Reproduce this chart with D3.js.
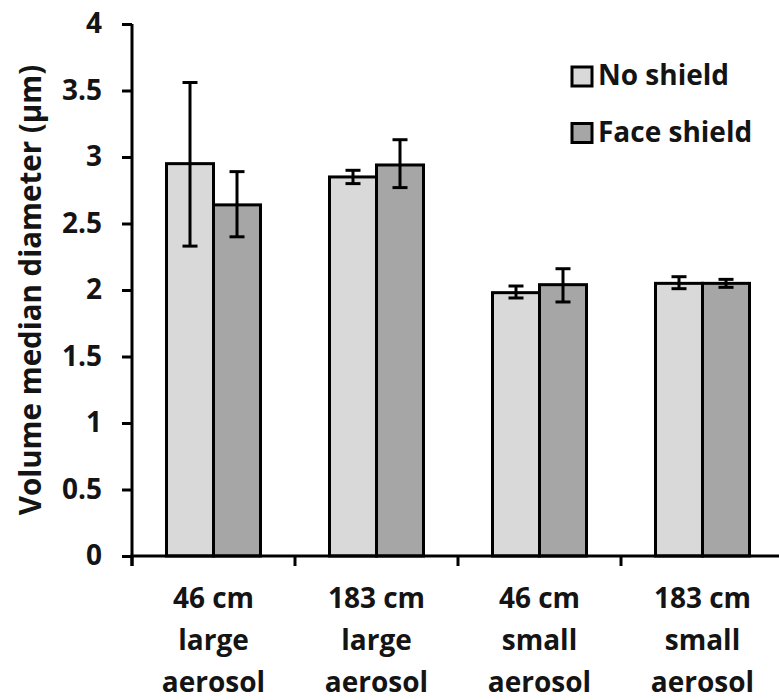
<!DOCTYPE html>
<html><head><meta charset="utf-8">
<script src="https://cdn.jsdelivr.net/npm/d3@7"></script>
<style>body{margin:0;background:#fff}</style>
</head><body>
<svg id="c" width="779" height="700"></svg>
<script>
const categories = [["46 cm","large","aerosol"],["183 cm","large","aerosol"],["46 cm","small","aerosol"],["183 cm","small","aerosol"]];
const series = ["No shield","Face shield"];
const noShield = [2.95, 2.85, 1.98, 2.05];
const noShieldLo = [2.33, 2.80, 1.94, 2.01];
const noShieldHi = [3.56, 2.90, 2.03, 2.10];
const faceShield = [2.64, 2.94, 2.04, 2.05];
const faceShieldLo = [2.40, 2.77, 1.91, 2.02];
const faceShieldHi = [2.89, 3.13, 2.16, 2.08];
const yTicks = [0, 0.5, 1, 1.5, 2, 2.5, 3, 3.5, 4];
const colors = ["#d9d9d9", "#a6a6a6"];

const svg = d3.select("#c");
const font = "'Open Sans', sans-serif";
const txt = "#141414";
const x0 = d3.scaleBand().domain(d3.range(categories.length)).range([132, 784]).paddingInner(0).paddingOuter(0);
const x1 = d3.scaleBand().domain(series).range([34.5, x0.bandwidth()-34.5]);
const y = d3.scaleLinear().domain([0,4]).range([556, 24]);

const data = [noShield, faceShield];
const lo = [noShieldLo, faceShieldLo];
const hi = [noShieldHi, faceShieldHi];

// bars
categories.forEach((c,i)=>{
  series.forEach((s,j)=>{
    svg.append("rect")
      .attr("x", x0(i)+x1(s)).attr("width", x1.bandwidth())
      .attr("y", y(data[j][i])).attr("height", y(0)-y(data[j][i]))
      .attr("fill", colors[j]).attr("stroke","#000").attr("stroke-width",3);
  });
});
// error bars
categories.forEach((c,i)=>{
  series.forEach((s,j)=>{
    const cx = x0(i)+x1(s)+x1.bandwidth()/2;
    const g = svg.append("g").attr("stroke","#000").attr("stroke-width",3);
    g.append("line").attr("x1",cx).attr("x2",cx).attr("y1",y(lo[j][i])).attr("y2",y(hi[j][i]));
    [lo[j][i],hi[j][i]].forEach(v=>g.append("line").attr("x1",cx-7.5).attr("x2",cx+7.5).attr("y1",y(v)).attr("y2",y(v)));
  });
});

// y axis
const yAxis = svg.append("g").attr("transform","translate(132,0)")
  .call(d3.axisLeft(y).tickValues(yTicks).tickSize(10).tickPadding(20).tickFormat(d=>String(d)));
yAxis.select(".domain").attr("stroke-width",3).attr("d", `M0,${y(4)}V${y(0)+10}`);
yAxis.selectAll(".tick line").attr("stroke-width",3);
yAxis.selectAll("text").attr("font-family",font).attr("font-weight","bold").attr("font-size",28).attr("fill",txt);

// x axis
const xAxis = svg.append("g").attr("transform",`translate(0,${y(0)})`);
xAxis.append("line").attr("x1",130.5).attr("x2",784).attr("y1",0).attr("y2",0).attr("stroke","#000").attr("stroke-width",3);
d3.range(categories.length+1).forEach(i=>{
  const xx = i<categories.length ? x0(i) : 784;
  xAxis.append("line").attr("x1",xx).attr("x2",xx).attr("y1",0).attr("y2",10).attr("stroke","#000").attr("stroke-width",3);
});
categories.forEach((c,i)=>{
  const t = svg.append("text").attr("text-anchor","middle").attr("font-family",font).attr("font-weight","bold").attr("font-size",28).attr("fill",txt);
  c.forEach((line,k)=>{
    t.append("tspan").attr("x", x0(i)+x0.bandwidth()/2).attr("y", 608+k*42).text(line);
  });
});

// y title
svg.append("text").attr("transform","translate(41,290) rotate(-90)").attr("text-anchor","middle")
  .attr("font-family",font).attr("font-weight","bold").attr("font-size",29.5).attr("fill",txt)
  .text("Volume median diameter (µm)");

// legend
series.forEach((s,j)=>{
  const ly = 67 + j*56.5;
  svg.append("rect").attr("x",572).attr("y",ly).attr("width",20).attr("height",19)
    .attr("fill",colors[j]).attr("stroke","#000").attr("stroke-width",3);
  svg.append("text").attr("x",598).attr("y",ly+18).attr("font-family",font).attr("font-weight","bold")
    .attr("font-size",28).attr("fill",txt).text(s);
});
</script>
</body></html>
